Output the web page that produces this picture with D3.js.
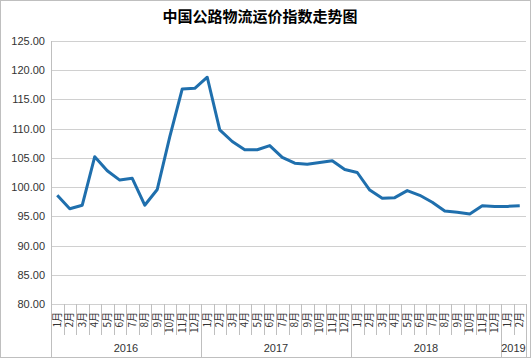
<!DOCTYPE html>
<html><head><meta charset="utf-8">
<script src="https://cdn.jsdelivr.net/npm/d3@7"></script>
<style>body{margin:0;background:#fff}svg{display:block}</style>
</head><body>
<script>
const title = "中国公路物流运价指数走势图";
const years = ["2016","2017","2018","2019"];
const monthsPerYear = [12,12,12,2];
const values = [98.6,96.3,96.9,105.2,102.8,101.2,101.5,96.9,99.6,108.6,116.8,116.9,
  118.8,109.8,107.8,106.4,106.4,107.1,105.1,104.1,103.9,104.2,104.5,103.0,
  102.5,99.5,98.1,98.2,99.4,98.6,97.4,95.9,95.7,95.4,96.8,96.7,
  96.7,96.8];
const yTicks = [80,85,90,95,100,105,110,115,120,125];

const W=531,H=358;
const L=51,R=526,T=41,B=304;
const cats=[];
years.forEach((y,i)=>{for(let m=1;m<=monthsPerYear[i];m++)cats.push({key:y+"-"+m,label:m+"月",year:y});});

const svg=d3.select("body").append("svg").attr("width",W).attr("height",H);
svg.append("rect").attr("x",0.5).attr("y",0.5).attr("width",W-1).attr("height",H-1).attr("fill","#fff").attr("stroke","#bfbfbf");

svg.append("text").attr("x",260).attr("y",22).attr("text-anchor","middle")
  .attr("font-family","'Noto Sans CJK SC'").attr("font-weight","bold").attr("font-size",15).attr("fill","#000").text(title);

const x=d3.scaleBand().domain(cats.map(d=>d.key)).range([L,R]);
const y=d3.scaleLinear().domain([80,125]).range([B,T]);

// grid
svg.append("g").selectAll("line").data(yTicks).join("line")
  .attr("x1",L).attr("x2",R).attr("y1",d=>Math.round(y(d))+0.5).attr("y2",d=>Math.round(y(d))+0.5)
  .attr("stroke","#d0d0d0").attr("stroke-width",1);

// y labels
svg.append("g").selectAll("text").data(yTicks).join("text")
  .attr("x",45).attr("y",d=>y(d)+4).attr("text-anchor","end")
  .attr("font-family","'Liberation Sans',Arial,sans-serif").attr("font-size",11).attr("fill","#333")
  .text(d=>d3.format(".2f")(d));

// left axis line
svg.append("line").attr("x1",L+0.5).attr("x2",L+0.5).attr("y1",T).attr("y2",H).attr("stroke","#bfbfbf");

// month separators
const bw=x.bandwidth();
svg.append("g").selectAll("line").data(cats.slice(1)).join("line")
  .attr("x1",d=>Math.round(x(d.key))+0.5).attr("x2",d=>Math.round(x(d.key))+0.5)
  .attr("y1",B).attr("y2",d=>d.label==="1月"?H:335)
  .attr("stroke","#bfbfbf");
svg.append("line").attr("x1",R+0.5).attr("x2",R+0.5).attr("y1",B).attr("y2",H).attr("stroke","#bfbfbf");

// month labels
svg.append("g").selectAll("text").data(cats).join("text")
  .attr("transform",d=>`translate(${x(d.key)+bw/2+3.5},312) rotate(-90)`)
  .attr("text-anchor","end")
  .attr("font-family","'Noto Sans CJK SC'").attr("font-size",10).attr("fill","#333")
  .text(d=>d.label);

// year labels
let idx=0;
const yearPos=years.map((yr,i)=>{const s=idx;idx+=monthsPerYear[i];return {yr,s,e:idx};});
svg.append("g").selectAll("text").data(yearPos).join("text")
  .attr("x",d=>(x(cats[d.s].key)+x(cats[d.e-1].key)+bw)/2)
  .attr("y",352).attr("text-anchor","middle")
  .attr("font-family","'Liberation Sans',Arial,sans-serif").attr("font-size",11).attr("fill","#333")
  .text(d=>d.yr);

// line
const line=d3.line().x((d,i)=>x(cats[i].key)+bw/2).y(d=>y(d));
svg.append("path").datum(values).attr("d",line).attr("fill","none")
  .attr("stroke","#1f6fad").attr("stroke-width",3).attr("stroke-linejoin","round");
</script>
</body></html>
